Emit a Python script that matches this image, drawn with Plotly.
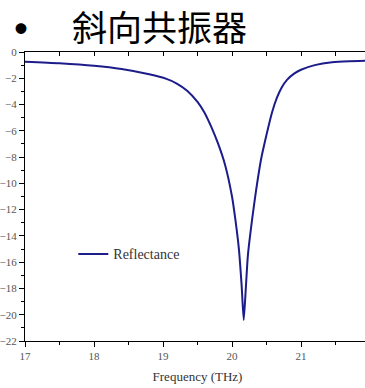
import plotly.graph_objects as go

freq = [17.0, 17.5, 18.0, 18.4, 18.8, 19.05, 19.2, 19.35, 19.5, 19.6, 19.7, 19.8, 19.9, 20.0, 20.05,
        20.1, 20.14, 20.17, 20.2, 20.23, 20.29, 20.35, 20.42, 20.5, 20.58, 20.65, 20.72, 20.8,
        20.9, 21.0, 21.2, 21.45, 21.7, 22.0]
refl = [-0.74, -0.86, -1.05, -1.3, -1.7, -2.05, -2.4, -2.95, -3.8, -4.6, -5.7, -7.0, -8.6, -11.0,
        -12.8, -15.0, -17.8, -20.4, -18.0, -15.5, -12.8, -10.5, -8.2, -6.3, -4.6, -3.5, -2.7,
        -2.1, -1.65, -1.35, -1.0, -0.78, -0.7, -0.66]
x_ticks = [17, 18, 19, 20, 21, 22]
y_ticks = list(range(0, -23, -2))
title_text = "斜向共振器"
series_name = "Reflectance"
x_title = "Frequency (THz)"

fig = go.Figure()
fig.add_trace(go.Scatter(x=freq, y=refl, mode="lines", name=series_name,
                         line=dict(color="#1c1c8a", width=2, shape="spline", smoothing=0.6)))
fig.add_trace(go.Scatter(x=[freq[0]], y=[refl[0]], xaxis="x2", mode="none",
                         showlegend=False, hoverinfo="skip"))

tickfont = dict(family="Liberation Serif", size=11, color="#555555")
fig.update_layout(
    width=370, height=388,
    margin=dict(l=22, r=0, t=52, b=47),
    paper_bgcolor="white", plot_bgcolor="white",
    showlegend=True,
    legend=dict(x=0.14, y=0.30, xanchor="left", yanchor="middle",
                bgcolor="rgba(0,0,0,0)", font=dict(family="Liberation Serif", size=14, color="#333333"),
                itemwidth=30),
    xaxis=dict(range=[17, 22.0], tickvals=x_ticks, ticks="outside", ticklen=5, tickcolor="black",
               showline=True, linecolor="black", linewidth=1, showgrid=False, zeroline=False,
               tickfont=tickfont,
               minor=dict(dtick=0.5, ticks="outside", ticklen=3, tickcolor="black"),
               title=dict(text=x_title, font=dict(family="Liberation Serif", size=13, color="#333333"),
                          standoff=10)),
    xaxis2=dict(range=[17, 22.0], overlaying="x", side="top", showticklabels=False,
                dtick=0.5, ticks="inside", ticklen=4, tickcolor="black",
                showline=True, linecolor="black", linewidth=1, showgrid=False, zeroline=False),
    yaxis=dict(range=[-22, 0], tickvals=y_ticks, ticks="outside", ticklen=5, tickcolor="black",
               showline=True, linecolor="black", linewidth=1, showgrid=False, zeroline=False,
               tickfont=tickfont,
               minor=dict(dtick=1, ticks="outside", ticklen=3, tickcolor="black")),
)

fig.add_annotation(text="●", xref="paper", yref="paper", x=-0.013, y=1.083, xanchor="center",
                   yanchor="middle", showarrow=False,
                   font=dict(family="Noto Sans CJK SC", size=12, color="black"))
fig.add_annotation(text=title_text, xref="paper", yref="paper", x=0.13, y=1.092, xanchor="left",
                   yanchor="middle", showarrow=False,
                   font=dict(family="Noto Sans CJK SC", size=35, color="black"))

fig.write_html("out.html", config={"displayModeBar": False},
               post_script="document.body.style.margin='0';document.body.style.overflow='hidden';")
